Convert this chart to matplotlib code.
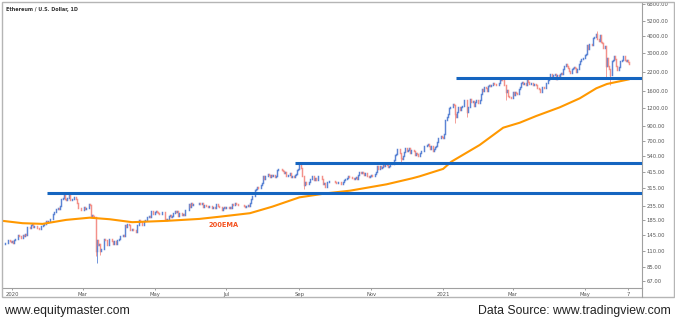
import numpy as np
import pandas as pd
import matplotlib
matplotlib.use('Agg')
import matplotlib.pyplot as plt
import matplotlib.dates as mdates
from matplotlib.lines import Line2D
from matplotlib.patches import Rectangle

# ETH/USD daily closes, 2019-12-25 .. 2021-06-08
close = [
    125, 126, 127, 126, 134, 131, 129,
    # 2020 Jan
    130, 127, 134, 135, 136, 144, 142, 141, 138, 144, 142, 146, 144, 165, 166, 163,
    171, 174, 166, 167, 169, 162, 162, 160, 160, 167, 170, 175, 174, 184, 179,
    # Feb
    183, 188, 189, 188, 204, 213, 223, 223, 228, 223, 236, 265, 268, 284, 265, 259,
    267, 282, 258, 258, 265, 262, 274, 265, 248, 225, 227, 226, 218,
    # Mar
    219, 231, 224, 226, 228, 244, 237, 200, 201, 200, 194, 111, 133, 123, 125, 110,
    114, 115, 135, 132, 132, 122, 135, 136, 136, 131, 124, 131, 125, 132, 133,
    # Apr
    136, 141, 141, 144, 143, 170, 164, 173, 170, 158, 158, 161, 156, 158, 153, 172,
    171, 187, 180, 171, 172, 183, 185, 187, 195, 197, 196, 215, 216, 206,
    # May
    213, 214, 211, 208, 206, 204, 212, 212, 211, 188, 186, 190, 199, 203, 194, 200,
    207, 214, 213, 214, 198, 209, 208, 202, 205, 202, 219, 220, 220, 243, 231,
    # Jun
    247, 237, 244, 244, 241, 241, 244, 245, 243, 247, 231, 237, 238, 234, 232, 235,
    236, 233, 228, 230, 228, 243, 244, 236, 232, 231, 221, 226, 229, 226,
    # Jul
    231, 230, 225, 229, 227, 241, 240, 246, 241, 241, 240, 240, 239, 240, 239, 233,
    232, 235, 237, 236, 245, 262, 275, 279, 305, 311, 322, 317, 318, 335, 345,
    # Aug
    386, 370, 387, 390, 402, 396, 379, 391, 390, 395, 379, 389, 428, 437, 434, 432,
    430, 423, 406, 416, 389, 396, 391, 408, 383, 386, 381, 394, 399, 428, 434,
    # Sep
    477, 440, 385, 387, 335, 353, 337, 337, 351, 368, 369, 387, 365, 377, 364, 365,
    389, 384, 384, 370, 341, 343, 321, 349, 351, 354, 356, 354, 359, 359,
    # Oct
    352, 346, 346, 352, 353, 341, 341, 350, 365, 370, 375, 387, 381, 379, 378, 377,
    368, 377, 379, 368, 392, 414, 410, 412, 406, 393, 404, 389, 387, 382, 386,
    # Nov
    396, 384, 388, 402, 416, 454, 436, 454, 444, 450, 463, 461, 476, 462, 448, 460,
    480, 479, 471, 509, 550, 557, 608, 603, 569, 519, 518, 538, 575, 616,
    # Dec
    587, 598, 616, 569, 596, 601, 592, 554, 573, 560, 545, 568, 590, 585, 589, 636,
    643, 654, 659, 638, 608, 635, 584, 612, 626, 634, 683, 730, 731, 751, 737,
    # 2021 Jan
    730, 775, 979, 1041, 1100, 1208, 1225, 1224, 1281, 1262, 1090, 1043, 1130, 1218,
    1171, 1233, 1256, 1257, 1377, 1382, 1121, 1236, 1233, 1392, 1324, 1357, 1253,
    1332, 1382, 1377, 1312,
    # Feb
    1375, 1513, 1660, 1592, 1719, 1677, 1613, 1748, 1768, 1744, 1783, 1843, 1814,
    1800, 1779, 1782, 1846, 1937, 1960, 1920, 1935, 1780, 1570, 1626, 1475, 1446,
    1460, 1417,
    # Mar
    1565, 1488, 1575, 1540, 1533, 1654, 1723, 1834, 1868, 1795, 1825, 1770, 1924,
    1853, 1795, 1806, 1822, 1780, 1811, 1812, 1782, 1681, 1669, 1583, 1588, 1700,
    1716, 1691, 1819, 1846, 1919,
    # Apr
    1977, 2142, 2028, 2093, 2107, 2115, 1968, 2088, 2072, 2136, 2155, 2142, 2300,
    2435, 2519, 2431, 2346, 2237, 2163, 2330, 2365, 2403, 2363, 2215, 2318, 2535,
    2663, 2747, 2757, 2773,
    # May
    2945, 2950, 3430, 3253, 3520, 3490, 3480, 3900, 3920, 3950, 4170, 3810, 3710,
    4080, 3640, 3580, 3280, 3380, 2430, 2780, 2430, 2300, 2100, 2640, 2700, 2880,
    2740, 2420, 2280, 2390, 2630,
    # Jun
    2630, 2710, 2860, 2690, 2630, 2710, 2600, 2500,
]
first_open = 124

# days with visible wicks
wick_hi_dates = ['2020-02-14', '2020-09-01', '2021-02-20', '2021-05-12']
wick_hi = [288, 488, 2040, 4380]
wick_lo_dates = ['2020-03-12', '2020-03-13', '2020-03-16', '2020-09-05', '2020-11-26',
                 '2021-01-11', '2021-01-21', '2021-02-23', '2021-05-19', '2021-05-23']
wick_lo = [101, 90, 104, 310, 480, 935, 1040, 1380, 1950, 1760]

# 200 day EMA
ema_dates = ['2019-12-24', '2020-01-10', '2020-01-27', '2020-02-16', '2020-03-07',
             '2020-03-24', '2020-04-12', '2020-05-11', '2020-06-08', '2020-06-25',
             '2020-07-21', '2020-08-09', '2020-09-01', '2020-09-24', '2020-10-14',
             '2020-11-14', '2020-12-06', '2020-12-12', '2020-12-29', '2021-01-01',
             '2021-01-08', '2021-02-01', '2021-02-21', '2021-03-07', '2021-03-21',
             '2021-04-10', '2021-04-27', '2021-05-11', '2021-05-20', '2021-06-08']
ema_vals = [183, 176, 174, 186, 193, 188, 179, 183, 189, 196,
            208, 232, 271, 290, 303, 337, 373, 385, 428, 436,
            492, 650, 868, 943, 1055, 1220, 1418, 1676, 1801, 1949]

# horizontal levels
level_vals = [293, 483, 1991]
level_starts = ['2020-01-31', '2020-08-28', '2021-01-12']

ytick_vals = [67, 85, 110, 145, 185, 235, 315, 415, 540, 700, 900, 1200,
              1600, 2200, 3000, 4000, 5200, 6800]
xtick_dates = ['2020-01-01', '2020-03-01', '2020-05-01', '2020-07-01', '2020-09-01',
               '2020-11-01', '2021-01-01', '2021-03-01', '2021-05-01', '2021-06-07']
xtick_labels = ['2020', 'Mar', 'May', 'Jul', 'Sep', 'Nov', '2021', 'Mar', 'May', '7']

dates = pd.date_range('2019-12-25', periods=len(close), freq='D')
c = np.array(close, dtype=float)
o = np.array([first_open] + close[:-1], dtype=float)
hi = np.maximum(o, c)
lo = np.minimum(o, c)
for d, v in zip(wick_hi_dates, wick_hi):
    i = dates.get_loc(pd.Timestamp(d))
    hi[i] = max(hi[i], v)
for d, v in zip(wick_lo_dates, wick_lo):
    i = dates.get_loc(pd.Timestamp(d))
    lo[i] = min(lo[i], v)

x = mdates.date2num(dates)
cols = np.where(c >= o, '#5b84d4', '#f39089')

W, H = 675, 323
fig = plt.figure(figsize=(W / 100, H / 100), dpi=100)
ax = fig.add_axes([3 / W, 1 - 288 / H, 639 / W, 285 / H])
ax.set_yscale('log')

x0 = mdates.date2num(pd.Timestamp('2020-01-01')) - 7.6
x1 = mdates.date2num(pd.Timestamp('2020-01-01')) + 534.8

ax.vlines(x, lo, hi, colors=cols, linewidth=0.6)
ax.vlines(x, np.minimum(o, c), np.maximum(o, c), colors=cols, linewidth=1.05,
          capstyle='projecting')

ax.plot(mdates.date2num(pd.to_datetime(ema_dates)), ema_vals, color='#ff9800', lw=1.5,
        solid_capstyle='round', zorder=3)
ax.hlines(level_vals, mdates.date2num(pd.to_datetime(level_starts)), x1,
          color='#1565c0', lw=2.2, zorder=4)
ax.text(mdates.date2num(pd.Timestamp('2020-06-29')), 172, '200EMA', color='#f4511e',
        fontsize=4.8, fontweight='bold', ha='center', va='center')

ax.set_xlim(x0, x1)
ax.set_ylim(59.6, 6970)

ax.yaxis.tick_right()
ax.yaxis.set_minor_locator(matplotlib.ticker.NullLocator())
ax.set_yticks(ytick_vals)
ax.set_yticklabels([f'{v:.2f}' for v in ytick_vals])
ax.tick_params(axis='y', length=2, width=0.5, pad=1.5, labelsize=3.8,
               colors='#777', labelcolor='#555')
ax.set_xticks(mdates.date2num(pd.to_datetime(xtick_dates)))
ax.set_xticklabels(xtick_labels)
ax.tick_params(axis='x', length=1.5, width=0.5, pad=1.5, labelsize=3.8,
               colors='#777', labelcolor='#555')

for s in ['left', 'top']:
    ax.spines[s].set_visible(False)
for s in ['right', 'bottom']:
    ax.spines[s].set_color('#a0a0a0')
    ax.spines[s].set_linewidth(0.8)

# outer frame of the chart panel
fig.patches.append(Rectangle((1.5 / W, 1 - 297 / H), 672 / W, 295.5 / H,
                             transform=fig.transFigure, fill=False,
                             edgecolor='#b5b5b5', lw=1.0))
fig.lines.append(Line2D([642 / W, 642 / W], [1 - 297 / H, 1 - 288 / H],
                        transform=fig.transFigure, color='#a0a0a0', lw=0.8))

fig.text(6 / W, 1 - 10 / H, 'Ethereum / U.S. Dollar, 1D', fontsize=3.5,
         fontweight='bold', color='#333333', va='center')

foot = ['Liberation Sans Narrow', 'Liberation Sans', 'DejaVu Sans']
fig.text(4 / W, 1 - 311 / H, 'www.equitymaster.com', fontsize=8.8, family=foot,
         color='#222222', va='center')
fig.text(671 / W, 1 - 311 / H, 'Data Source: www.tradingview.com', fontsize=8.8,
         family=foot, color='#222222', va='center', ha='right')

fig.savefig('out.png', dpi=100)
